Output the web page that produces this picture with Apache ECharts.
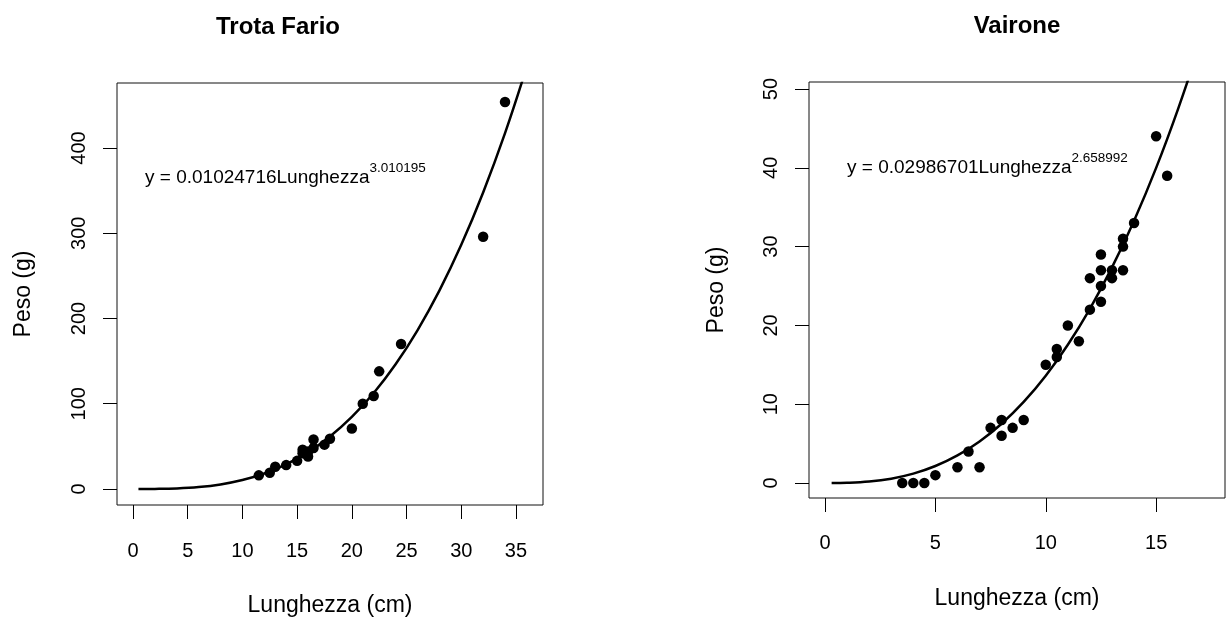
<!DOCTYPE html>
<html>
<head>
<meta charset="utf-8">
<script src="https://cdn.jsdelivr.net/npm/echarts@6/dist/echarts.min.js"></script>
<style>html,body{margin:0;padding:0;background:#fff}#c{width:1226px;height:624px}</style>
</head>
<body>
<div id="c"></div>
<script>
// ---- Trota Fario (left) ----
const troutLength = [11.5, 12.5, 13, 14, 15, 15.5, 15.5, 16, 16, 16.5, 16.5, 17.5, 18, 20, 21, 22, 22.5, 24.5, 32, 34];
const troutWeight = [16, 19, 26, 28, 33, 42, 46, 38, 44, 48, 58, 52, 59, 71, 100, 109, 138, 170, 296, 454];
const troutCurveX = [0.5, 1, 2, 4, 6, 8, 10, 12, 14, 16, 18, 20, 22, 24, 26, 28, 30, 32, 34, 36];
const troutCurveY = [0.0013, 0.0102, 0.083, 0.665, 2.25, 5.36, 10.49, 18.16, 28.88, 43.18, 61.55, 84.52, 112.6, 146.3, 186.2, 232.7, 286.4, 347.9, 417.5, 495.9];
const troutXTicks = [0, 5, 10, 15, 20, 25, 30, 35];
const troutYTicks = [0, 100, 200, 300, 400];

// ---- Vairone (right) ----
const vaironeLength = [3.5, 4, 4.5, 5, 6, 6.5, 7, 7.5, 8, 8, 8.5, 9, 10, 10.5, 10.5, 11, 11.5, 12, 12, 12.5, 12.5, 12.5, 12.5, 13, 13, 13.5, 13.5, 13.5, 14, 15, 15.5];
const vaironeWeight = [0, 0, 0, 1, 2, 4, 2, 7, 8, 6, 7, 8, 15, 17, 16, 20, 18, 22, 26, 23, 25, 27, 29, 27, 26, 27, 30, 31, 33, 44, 39];
const vaironeCurveX = [0.3, 1, 2, 3, 4, 5, 6, 7, 8, 9, 10, 11, 12, 13, 14, 15, 16, 17];
const vaironeCurveY = [0.0012, 0.0299, 0.189, 0.555, 1.191, 2.157, 3.502, 5.275, 7.524, 10.29, 13.62, 17.55, 22.11, 27.36, 33.29, 39.99, 47.52, 55.83];
const vaironeXTicks = [0, 5, 10, 15];
const vaironeYTicks = [0, 10, 20, 30, 40, 50];

const FONT = "'Liberation Sans', Arial, Helvetica, sans-serif";
const zip = (a, b) => a.map((v, i) => [v, b[i]]);

function xAxis(idx, min, max, ticks, labelMargin) {
  return {
    type: 'value', gridIndex: idx, min: min, max: max,
    name: 'Lunghezza (cm)', nameLocation: 'middle', nameGap: 89,
    nameTextStyle: { fontFamily: FONT, fontSize: 23, color: '#000' },
    axisLine: { show: false, onZero: false },
    axisTick: { show: true, inside: false, length: 14, customValues: ticks, lineStyle: { color: '#000', width: 1 } },
    axisLabel: { show: true, customValues: ticks, margin: labelMargin, fontFamily: FONT, fontSize: 20, color: '#000' },
    splitLine: { show: false }
  };
}
function yAxis(idx, min, max, ticks, gap) {
  return {
    type: 'value', gridIndex: idx, min: min, max: max,
    name: 'Peso (g)', nameLocation: 'middle', nameGap: gap,
    nameTextStyle: { fontFamily: FONT, fontSize: 23, color: '#000' },
    axisLine: { show: false, onZero: false },
    axisTick: { show: true, inside: false, length: 14, customValues: ticks, lineStyle: { color: '#000', width: 1 } },
    axisLabel: { show: true, customValues: ticks, rotate: 90, margin: 28, fontFamily: FONT, fontSize: 20, color: '#000' },
    splitLine: { show: false }
  };
}

const chart = echarts.init(document.getElementById('c'), null, { renderer: 'canvas' });
chart.setOption({
  animation: false,
  backgroundColor: '#fff',
  grid: [
    { left: 117, top: 83, width: 426, height: 422, show: true, borderColor: '#111', borderWidth: 1, backgroundColor: 'transparent' },
    { left: 809, top: 82, width: 416, height: 416, show: true, borderColor: '#111', borderWidth: 1, backgroundColor: 'transparent' }
  ],
  xAxis: [
    xAxis(0, -1.46, 37.47, troutXTicks, 36),
    xAxis(1, -0.725, 18.12, vaironeXTicks, 35)
  ],
  yAxis: [
    yAxis(0, -18.8, 476.3, troutYTicks, 82),
    yAxis(1, -1.9, 50.89, vaironeYTicks, 81)
  ],
  graphic: [
    { type: 'text', x: 278, y: 27, style: { text: 'Trota Fario', fontFamily: FONT, fontSize: 24, fontWeight: 'bold', fill: '#000', textAlign: 'center', textVerticalAlign: 'middle' } },
    { type: 'text', x: 1017, y: 26, style: { text: 'Vairone', fontFamily: FONT, fontSize: 24, fontWeight: 'bold', fill: '#000', textAlign: 'center', textVerticalAlign: 'middle' } },
    { type: 'text', left: 145, top: 161, style: {
      text: '{m|y = 0.01024716Lunghezza}{s|3.010195}', fill: '#000', fontFamily: FONT,
      rich: { m: { fontSize: 19, fontFamily: FONT, lineHeight: 26, verticalAlign: 'bottom', fill: '#000' },
              s: { fontSize: 13.5, fontFamily: FONT, lineHeight: 16, verticalAlign: 'top', fill: '#000' } } } },
    { type: 'text', left: 847, top: 151, style: {
      text: '{m|y = 0.02986701Lunghezza}{s|2.658992}', fill: '#000', fontFamily: FONT,
      rich: { m: { fontSize: 19, fontFamily: FONT, lineHeight: 26, verticalAlign: 'bottom', fill: '#000' },
              s: { fontSize: 13.5, fontFamily: FONT, lineHeight: 16, verticalAlign: 'top', fill: '#000' } } } }
  ],
  series: [
    { type: 'line', xAxisIndex: 0, yAxisIndex: 0, data: zip(troutCurveX, troutCurveY), smooth: 0.4, showSymbol: false, symbol: 'none', clip: true,
      lineStyle: { color: '#000', width: 2.5 } },
    { type: 'scatter', xAxisIndex: 0, yAxisIndex: 0, data: zip(troutLength, troutWeight), symbol: 'circle', symbolSize: 10.5,
      itemStyle: { color: '#000', opacity: 1 } },
    { type: 'line', xAxisIndex: 1, yAxisIndex: 1, data: zip(vaironeCurveX, vaironeCurveY), smooth: 0.4, showSymbol: false, symbol: 'none', clip: true,
      lineStyle: { color: '#000', width: 2.5 } },
    { type: 'scatter', xAxisIndex: 1, yAxisIndex: 1, data: zip(vaironeLength, vaironeWeight), symbol: 'circle', symbolSize: 10.5,
      itemStyle: { color: '#000', opacity: 1 } }
  ]
});
</script>
</body>
</html>
